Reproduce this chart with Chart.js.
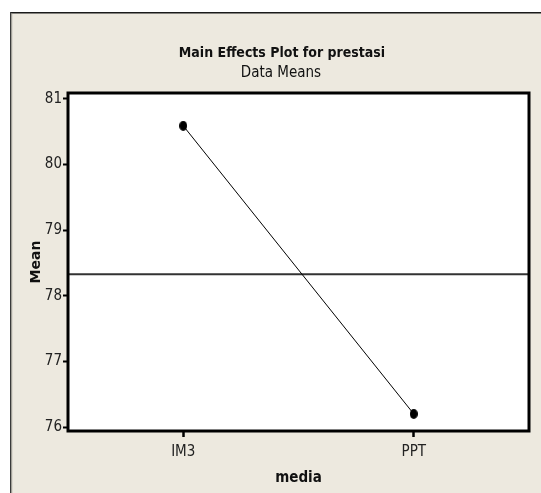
<!DOCTYPE html>
<html>
<head>
<meta charset="utf-8">
<script src="https://cdn.jsdelivr.net/npm/chart.js@4.4.1/dist/chart.umd.min.js"></script>
<style>
  html, body { margin: 0; padding: 0; background: #fff; }
  #wrap { width: 541px; height: 493px; }
</style>
</head>
<body>
<div id="wrap"><canvas id="mainEffects" width="541" height="493"></canvas></div>
<script>
// data
const mediaLevels = ["IM3", "PPT"];
const prestasiMeans = [80.59, 76.2];
const grandMean = 78.33;
const meanTicks = [76, 77, 78, 79, 80, 81];

const titleText = "Main Effects Plot for prestasi";
const subtitleText = "Data Means";

const narrow = '"Liberation Sans Narrow", "DejaVu Sans Condensed", sans-serif';
const beige = "#ede9df";

// Minitab draws its dots slightly taller than wide
function dotImage(w, h) {
  const c = document.createElement("canvas");
  c.width = w;
  c.height = h;
  const g = c.getContext("2d");
  g.fillStyle = "#000";
  g.beginPath();
  g.ellipse(w / 2, h / 2, w / 2, h / 2, 0, 0, Math.PI * 2);
  g.fill();
  return c;
}

const panel = {
  id: "panel",
  beforeDraw(chart) {
    const { ctx, width, height, chartArea: a } = chart;
    ctx.save();
    ctx.fillStyle = "#fff";
    ctx.fillRect(0, 0, width, height);
    ctx.fillStyle = beige;
    ctx.fillRect(10, 13, width - 10, height - 13);
    ctx.fillStyle = "#fff";
    ctx.fillRect(a.left, a.top, a.right - a.left, a.bottom - a.top);
    // figure frame: dark top edge, two-tone left edge
    ctx.fillStyle = "#1a1a1a";
    ctx.fillRect(10, 12, width - 10, 1.5);
    ctx.fillStyle = "#3a3a3a";
    ctx.fillRect(10, 12, 1.2, height - 12);
    ctx.fillStyle = "#9a978f";
    ctx.fillRect(11.2, 13.5, 1, height - 13.5);

    ctx.fillStyle = "#111";
    ctx.textAlign = "center";
    ctx.textBaseline = "alphabetic";
    ctx.font = 'bold 14px "DejaVu Sans Condensed", sans-serif';
    ctx.fillText(titleText, 282, 56.5);
    ctx.font = "15px " + narrow;
    ctx.fillText(subtitleText, 281, 76.5);
    ctx.restore();
  },
  afterDraw(chart) {
    const { ctx, chartArea: a } = chart;
    ctx.save();
    ctx.strokeStyle = "#000";
    ctx.lineWidth = 3;
    ctx.strokeRect(a.left, a.top, a.right - a.left, a.bottom - a.top);
    ctx.restore();
  },
};

new Chart(document.getElementById("mainEffects").getContext("2d"), {
  type: "line",
  data: {
    labels: mediaLevels,
    datasets: [
      {
        label: "Grand mean",
        xAxisID: "xr",
        data: [{ x: 0, y: grandMean }, { x: 1, y: grandMean }],
        borderColor: "#333",
        borderWidth: 2,
        pointRadius: 0,
        order: 2,
      },
      {
        label: "prestasi",
        data: prestasiMeans,
        borderColor: "#000",
        borderWidth: 1,
        pointStyle: dotImage(8, 10),
        pointRadius: 5,
        order: 1,
      },
    ],
  },
  options: {
    responsive: false,
    devicePixelRatio: 1,
    animation: false,
    layout: { padding: { top: 93, left: 20, right: 12, bottom: 0 } },
    plugins: {
      legend: { display: false },
      tooltip: { enabled: false },
    },
    scales: {
      x: {
        type: "category",
        offset: true,
        grid: {
          offset: false,
          drawOnChartArea: false,
          tickLength: 6,
          tickWidth: 2.5,
          tickColor: "#000",
        },
        border: { display: false },
        ticks: { color: "#222", font: { family: narrow, size: 15 }, padding: 6 },
        title: {
          display: true,
          text: "media",
          color: "#111",
          font: { family: narrow, size: 15, weight: "bold" },
          padding: { top: 0, bottom: 6 },
        },
        afterFit(s) { s.height = 62; },
      },
      xr: {
        type: "linear",
        display: false,
        min: 0,
        max: 1,
      },
      y: {
        min: 75.94,
        max: 81.09,
        grid: {
          drawOnChartArea: false,
          tickLength: 5,
          tickWidth: 2,
          tickColor: "#000",
        },
        border: { display: false },
        afterBuildTicks(s) { s.ticks = meanTicks.map((v) => ({ value: v })); },
        ticks: { color: "#222", font: { family: narrow, size: 15 }, padding: 1 },
        title: {
          display: true,
          text: "Mean",
          color: "#111",
          font: { family: '"DejaVu Sans", sans-serif', size: 14, weight: "bold" },
          padding: { top: 8, bottom: 0 },
        },
        afterFit(s) { s.width = 48; },
      },
    },
  },
  plugins: [panel],
});
</script>
</body>
</html>
